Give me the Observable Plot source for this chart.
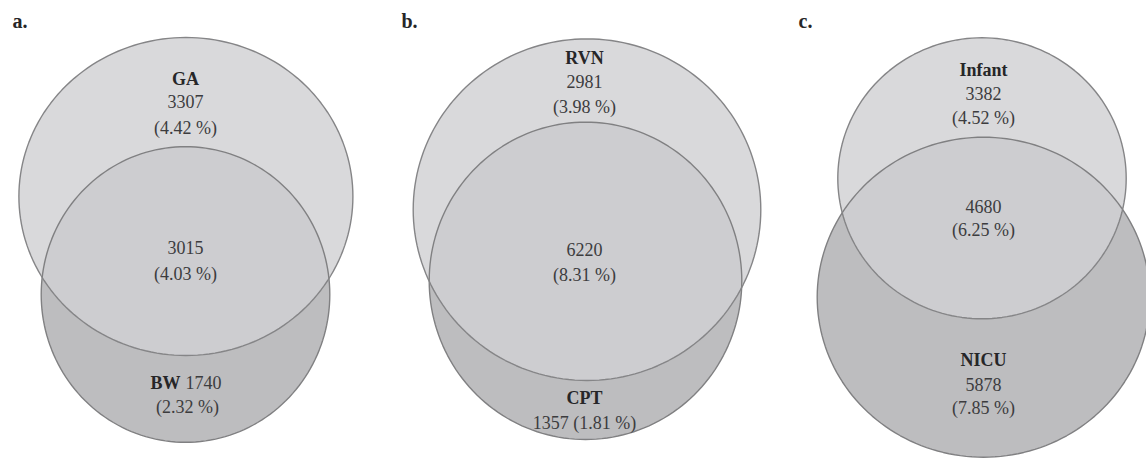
<!DOCTYPE html>
<html>
<head>
<meta charset="utf-8">
<script src="https://cdn.jsdelivr.net/npm/d3@7"></script>
<script src="https://cdn.jsdelivr.net/npm/@observablehq/plot@0.6"></script>
<style>
  html, body { margin: 0; padding: 0; background: #fff; }
  #chart svg { display: block; }
</style>
</head>
<body>
<div id="chart"></div>
<script>
// ---- data ----
const panelLetters = ["a.", "b.", "c."];
const firstSet = ["GA", "RVN", "Infant"];
const secondSet = ["BW", "CPT", "NICU"];
const firstOnly = [3307, 2981, 3382];
const firstOnlyPct = [4.42, 3.98, 4.52];
const overlap = [3015, 6220, 4680];
const overlapPct = [4.03, 8.31, 6.25];
const secondOnly = [1740, 1357, 5878];
const secondOnlyPct = [2.32, 1.81, 7.85];

// ---- layout (pixels) ----
const W = 1146, H = 458;
// ellipse geometry per panel: [cx, cy, rx, ry]
const topEllipse = [[185.4, 196, 167, 159], [586.5, 209.2, 173.8, 170.8], [981.5, 177.8, 144.2, 140.5]];
const bottomEllipse = [[185, 294, 144.3, 147.8], [585, 280.3, 156.3, 158.7], [983, 296.7, 166.3, 160]];
const letterPos = [[12, 21], [401, 21], [798, 21]];
const cx = [185, 584, 983];
// y of text lines
const lineY = [
  [79, 102, 128, 248, 274, 383, 407, null],
  [58, 82, 107, 250, 275, 398, 423, null],
  [70, 94, 118, 207, 230, 360, 385, 408]
];

const pct = p => `(${p.toFixed(2)} %)`;

function ellipsePoints(e, id) {
  const [x0, y0, rx, ry] = e;
  return d3.range(0, 360, 2).map(d => {
    const t = d * Math.PI / 180;
    return {id, x: x0 + rx * Math.cos(t), y: y0 + ry * Math.sin(t)};
  });
}
const bottomPts = bottomEllipse.flatMap((e, i) => ellipsePoints(e, "b" + i));
const topPts = topEllipse.flatMap((e, i) => ellipsePoints(e, "t" + i));

// text rows
const texts = [];
panelLetters.forEach((L, i) => {
  const ly = lineY[i];
  texts.push({x: letterPos[i][0], y: letterPos[i][1], t: L, anchor: "start", bold: true, letter: true});
  texts.push({x: cx[i], y: ly[0], t: firstSet[i], anchor: "middle", bold: true});
  texts.push({x: cx[i], y: ly[1], t: String(firstOnly[i]), anchor: "middle"});
  texts.push({x: cx[i], y: ly[2], t: pct(firstOnlyPct[i]), anchor: "middle"});
  texts.push({x: cx[i], y: ly[3], t: String(overlap[i]), anchor: "middle"});
  texts.push({x: cx[i], y: ly[4], t: pct(overlapPct[i]), anchor: "middle"});
});
// panel a: "BW 1740" / "(2.32 %)"
texts.push({x: 180, y: lineY[0][5], t: secondSet[0], anchor: "end", bold: true});
texts.push({x: 185, y: lineY[0][5], t: String(secondOnly[0]), anchor: "start"});
texts.push({x: 187, y: lineY[0][6], t: pct(secondOnlyPct[0]), anchor: "middle"});
// panel b: "CPT" / "1357 (1.81 %)"
texts.push({x: cx[1], y: lineY[1][5], t: secondSet[1], anchor: "middle", bold: true});
texts.push({x: cx[1], y: lineY[1][6], t: `${secondOnly[1]} ${pct(secondOnlyPct[1])}`, anchor: "middle"});
// panel c: "NICU" / "5878" / "(7.85 %)"
texts.push({x: cx[2], y: lineY[2][5], t: secondSet[2], anchor: "middle", bold: true});
texts.push({x: cx[2], y: lineY[2][6], t: String(secondOnly[2]), anchor: "middle"});
texts.push({x: cx[2], y: lineY[2][7], t: pct(secondOnlyPct[2]), anchor: "middle"});

const font = "'Liberation Serif', 'DejaVu Serif', serif";

const textMarks = [];
for (const anchor of ["start", "middle", "end"]) {
  for (const bold of [false, true]) {
    textMarks.push(Plot.text(texts, {
      filter: d => d.anchor === anchor && !!d.bold === bold,
      x: "x", y: "y", text: "t",
      textAnchor: anchor,
      fontSize: d => d.letter ? 20 : 18,
      fontWeight: bold ? "bold" : "normal",
      fill: bold ? "#262628" : "#3c3c3e"
    }));
  }
}

const chart = Plot.plot({
  width: W,
  height: H,
  margin: 0,
  x: {domain: [0, W], range: [0, W], axis: null},
  y: {domain: [0, H], range: [0, H], axis: null},
  style: {fontFamily: font, background: "#fff"},
  marks: [
    Plot.line(bottomPts, {x: "x", y: "y", z: "id", fill: "#bdbdbf", stroke: "none", curve: "linear-closed"}),
    Plot.line(topPts, {x: "x", y: "y", z: "id", fill: "#d1d1d3", fillOpacity: 0.82, stroke: "none", curve: "linear-closed"}),
    Plot.line(bottomPts, {x: "x", y: "y", z: "id", stroke: "#808082", strokeWidth: 1.4, curve: "linear-closed"}),
    Plot.line(topPts, {x: "x", y: "y", z: "id", stroke: "#858587", strokeWidth: 1.4, curve: "linear-closed"}),
    ...textMarks
  ]
});
document.getElementById("chart").appendChild(chart);
</script>
</body>
</html>
